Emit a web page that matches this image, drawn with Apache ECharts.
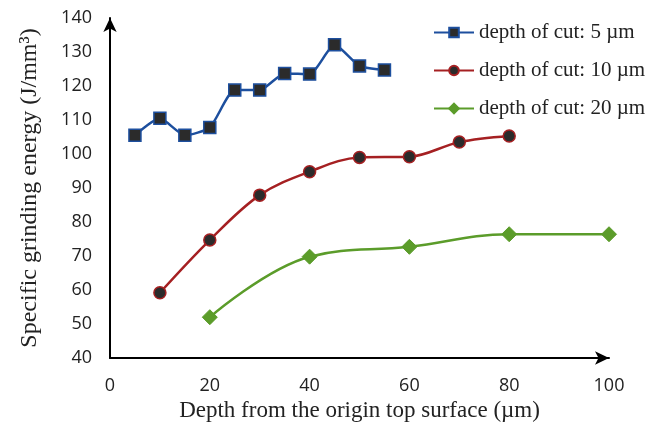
<!DOCTYPE html>
<html><head><meta charset="utf-8">
<script src="https://cdn.jsdelivr.net/npm/echarts@6/dist/echarts.min.js"></script>
<style>html,body{margin:0;padding:0;background:#fff}#c{width:657px;height:432px}</style>
</head><body><div id="c"></div>
<script>
const names = ['depth of cut: 5 µm','depth of cut: 10 µm','depth of cut: 20 µm'];
const x5 = [5,10,15,20,25,30,35,40,45,50,55];
const y5 = [105.5,110.5,105.5,107.8,118.8,118.8,123.7,123.5,132.1,125.9,124.7];
const x10 = [10,20,30,40,50,60,70,80];
const y10 = [59.2,74.7,87.9,94.8,99.0,99.2,103.5,105.3];
const x20 = [20,40,60,80,100];
const y20 = [52.0,69.8,72.7,76.4,76.4];
const xTicks = [0,20,40,60,80,100];
const yTicks = [40,50,60,70,80,90,100,110,120,130,140];

const zip = (a,b)=>a.map((v,i)=>[v,b[i]]);
const chart = echarts.init(document.getElementById('c'));
const serif = '"Liberation Serif","Times New Roman",serif';
const sans = '"Open Sans","Noto Sans",sans-serif';
chart.setOption({
  animation:false,
  backgroundColor:'#fff',
  grid:{left:110,right:48,top:18,bottom:74},
  legend:{
    orient:'vertical', left:428, top:17, itemGap:17, itemWidth:40, itemHeight:12,
    textStyle:{fontFamily:serif,fontSize:21,color:'#222'},
    data:names
  },
  xAxis:{
    type:'value', min:xTicks[0], max:xTicks[xTicks.length-1], interval:20,
    name:'Depth from the origin top surface (µm)', nameLocation:'middle', nameGap:41,
    nameTextStyle:{fontFamily:serif,fontSize:23,color:'#222'},
    axisLine:{show:true,symbol:['none','arrow'],symbolSize:[10,14],lineStyle:{color:'#000',width:2}},
    axisTick:{show:false}, splitLine:{show:false},
    axisLabel:{fontFamily:sans,fontSize:18,color:'#222',margin:19}
  },
  yAxis:{
    type:'value', min:yTicks[0], max:yTicks[yTicks.length-1], interval:10,
    name:'Specific grinding energy (J/mm³)', nameLocation:'middle', nameGap:68, nameRotate:90,
    nameTextStyle:{fontFamily:serif,fontSize:24,color:'#222'},
    axisLine:{show:true,symbol:['none','arrow'],symbolSize:[10,14],lineStyle:{color:'#000',width:2}},
    axisTick:{show:false}, splitLine:{show:false},
    axisLabel:{fontFamily:sans,fontSize:18,color:'#222',margin:18}
  },
  series:[
    {name:names[0],type:'line',data:zip(x5,y5),smooth:0.2,symbol:'rect',symbolSize:12,
     lineStyle:{color:'#1d4f9e',width:2.5},
     itemStyle:{color:'#2b2b2b',borderColor:'#1d4f9e',borderWidth:1.5}},
    {name:names[1],type:'line',data:zip(x10,y10),smooth:0.35,symbol:'circle',symbolSize:12,
     lineStyle:{color:'#a52022',width:2.5},
     itemStyle:{color:'#2b2b2b',borderColor:'#a52022',borderWidth:1.5}},
    {name:names[2],type:'line',data:zip(x20,y20),smooth:0.4,symbol:'diamond',symbolSize:15,
     lineStyle:{color:'#5b9c2a',width:2.5},
     itemStyle:{color:'#5b9c2a',borderColor:'#5b9c2a',borderWidth:1}}
  ]
});
</script></body></html>
